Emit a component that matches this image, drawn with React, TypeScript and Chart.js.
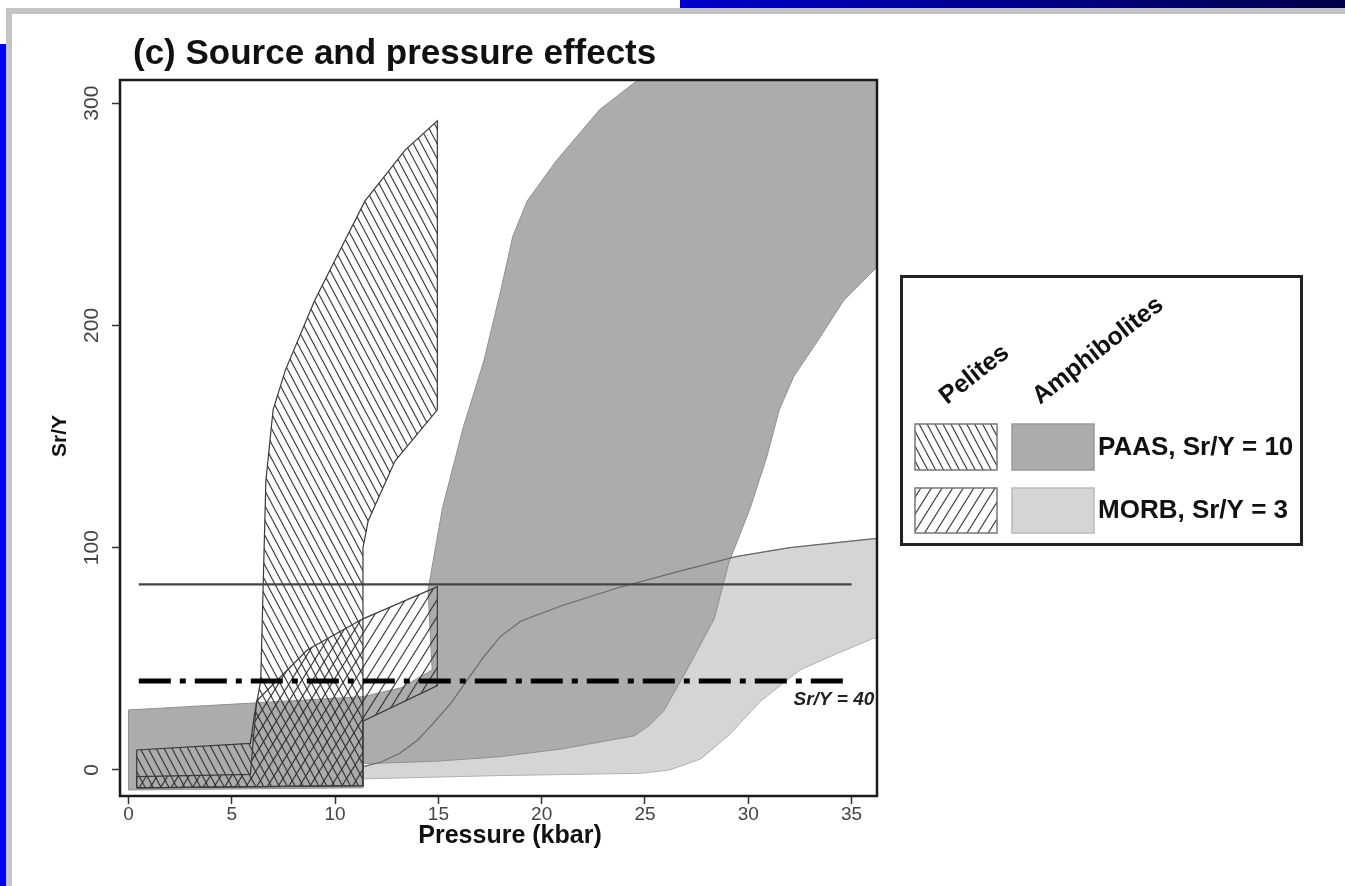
import React, { useEffect, useRef } from 'react';
import { Chart, registerables } from 'chart.js';

Chart.register(...registerables);

// ---- axis ticks ----
const xTicks = [0, 5, 10, 15, 20, 25, 30, 35];
const yTicks = [0, 100, 200, 300];

// ---- Amphibolites, PAAS source (dark grey envelope) ----
const amphPaasX = [0, 0, 5.8, 11.35, 13.2, 14.7, 14.5, 15.2, 16.2, 17.2, 18.0, 18.6, 19.3, 20.7, 22.8, 24.6, 26, 37, 37, 36.2, 34.6, 33.5, 32.2, 31.5, 30.9, 30.1, 29.05, 28.35, 27.0, 25.9, 25.2, 24.5, 21.0, 18.0, 15.0, 12.0, 11.35, 11.35, 0];
const amphPaasY = [-9, 27, 30, 33, 37, 45, 81, 118, 154, 184, 215, 240, 256, 274, 297, 310, 320, 320, 228, 226, 211, 195, 177, 162, 141, 118, 93, 68, 44.5, 26.5, 20, 15.4, 9.5, 6, 4, 3, 3, -8, -9];

// ---- Amphibolites, MORB source (light grey envelope) ----
const amphMorbUpperX = [11.35, 12.2, 13.15, 14.0, 14.75, 15.6, 16.4, 17.2, 18.0, 19.0, 21.0, 23.7, 26.5, 29.4, 32.0, 34.5, 37];
const amphMorbUpperY = [1.5, 3.5, 7.6, 13.5, 21, 30, 40.5, 51, 60, 67, 74, 82, 89, 96, 100, 102.5, 105];
const amphMorbLowerX = [37, 36.0, 34.2, 32.5, 30.6, 29.1, 27.7, 26.2, 24.8, 18.0, 11.35];
const amphMorbLowerY = [62, 59, 52, 45, 31, 16, 5, 0, -1.5, -2.5, -4];

// ---- Pelites, PAAS source (\\\ hatch) ----
const pelPaasX = [0.4, 0.4, 5.9, 6.1, 6.4, 6.65, 7.0, 7.6, 9.0, 10.25, 11.45, 13.4, 14.95, 14.95, 12.9, 11.6, 11.35, 11.35, 0.4];
const pelPaasY = [-8, 9, 12, 25, 40, 130, 162, 180, 211, 234, 256, 279, 292, 162, 139, 112, 100, -7, -8];

// ---- Pelites, MORB source (/// hatch) ----
const pelMorbX = [0.4, 0.4, 5.9, 6.2, 8.65, 11.35, 14.95, 14.95, 11.35, 11.35, 0.4];
const pelMorbY = [-8, -3, -2, 31, 54, 68, 82.5, 38, 22, -7, -8];

// ---- reference lines ----
const solidLineX = [0.5, 35];
const solidLineY = [83.5, 83.5];
const srY40X = [0.5, 34.6];
const srY40Y = [40, 40];

const FONT = '"Liberation Sans", Arial, Helvetica, sans-serif';

function pts(xs: number[], ys: number[]) {
  return xs.map((x, i) => ({ x, y: ys[i] }));
}

export default function App() {
  const ref = useRef<HTMLCanvasElement>(null);

  useEffect(() => {
    const canvas = ref.current!;
    const ctx = canvas.getContext('2d')!;

    const hatch = (spacing: number, angle: number, color: string, lw: number) => {
      const tile = document.createElement('canvas');
      tile.width = spacing;
      tile.height = spacing;
      const g = tile.getContext('2d')!;
      g.strokeStyle = color;
      g.lineWidth = lw;
      g.beginPath();
      g.moveTo(spacing / 2, 0);
      g.lineTo(spacing / 2, spacing);
      g.stroke();
      const p = ctx.createPattern(tile, 'repeat')!;
      p.setTransform(new DOMMatrix().rotateSelf(angle));
      return p;
    };
    const paasHatch = hatch(7, -28, '#2a2a2a', 1.1);
    const morbHatch = hatch(9, 32, '#2a2a2a', 1.1);

    const amphMorbPoly = [
      ...pts(amphMorbUpperX, amphMorbUpperY),
      ...pts(amphMorbLowerX, amphMorbLowerY),
    ];
    amphMorbPoly.push(amphMorbPoly[0]);

    const decor = {
      id: 'decor',
      afterDraw(chart: any) {
        const c = chart.ctx as CanvasRenderingContext2D;
        const a = chart.chartArea;
        const xs = chart.scales.x;
        const ys = chart.scales.y;
        c.save();
        // plot frame
        c.strokeStyle = '#1a1a1a';
        c.lineWidth = 2.5;
        c.strokeRect(a.left, a.top, a.right - a.left, a.bottom - a.top);

        c.fillStyle = '#111';
        c.textAlign = 'left';
        c.textBaseline = 'alphabetic';
        c.font = `bold 35px ${FONT}`;
        c.fillText('(c) Source and pressure effects', 133, 64);

        c.textAlign = 'center';
        c.font = `bold 25px ${FONT}`;
        c.fillText('Pressure (kbar)', 510, 843);

        c.save();
        c.translate(60, 436);
        c.rotate(-Math.PI / 2);
        c.textBaseline = 'middle';
        c.font = `bold 21px ${FONT}`;
        c.fillText('Sr/Y', 0, 0);
        c.restore();

        // Sr/Y = 40 label
        c.textAlign = 'right';
        c.font = `italic bold 19px ${FONT}`;
        c.fillStyle = '#222';
        c.fillText('Sr/Y = 40', xs.getPixelForValue(36.1), ys.getPixelForValue(40) + 24);

        // legend
        c.strokeStyle = '#222';
        c.lineWidth = 3;
        c.strokeRect(901.5, 276.5, 400, 268);

        c.lineWidth = 1.5;
        c.strokeStyle = '#777';
        c.fillStyle = '#fff';
        c.fillRect(915, 424, 82, 46);
        c.fillStyle = paasHatch;
        c.fillRect(915, 424, 82, 46);
        c.strokeRect(915, 424, 82, 46);
        c.fillStyle = '#acacac';
        c.fillRect(1012, 424, 82, 46);
        c.strokeStyle = '#9a9a9a';
        c.strokeRect(1012, 424, 82, 46);

        c.strokeStyle = '#777';
        c.fillStyle = morbHatch;
        c.fillRect(915, 488, 82, 45);
        c.strokeRect(915, 488, 82, 45);
        c.fillStyle = '#d5d5d5';
        c.fillRect(1012, 488, 82, 45);
        c.strokeStyle = '#bbb';
        c.strokeRect(1012, 488, 82, 45);

        c.fillStyle = '#111';
        c.textAlign = 'left';
        c.textBaseline = 'middle';
        c.font = `bold 26px ${FONT}`;
        c.fillText('PAAS, Sr/Y = 10', 1098, 448);
        c.fillText('MORB, Sr/Y = 3', 1098, 511);

        c.font = `bold 25px ${FONT}`;
        c.textBaseline = 'alphabetic';
        c.save();
        c.translate(947, 405);
        c.rotate(-38 * Math.PI / 180);
        c.fillText('Pelites', 0, 0);
        c.restore();
        c.save();
        c.translate(1040, 405);
        c.rotate(-38 * Math.PI / 180);
        c.fillText('Amphibolites', 0, 0);
        c.restore();

        c.restore();
      },
    };

    const chart = new Chart(ctx, {
      type: 'line',
      data: {
        datasets: [
          {
            label: 'Amphibolites MORB',
            data: amphMorbPoly,
            backgroundColor: '#d5d5d5',
            borderColor: '#b0b0b0',
            borderWidth: 1,
            fill: 'shape',
            order: 10,
          },
          {
            label: 'Amphibolites PAAS',
            data: pts(amphPaasX, amphPaasY),
            backgroundColor: '#acacac',
            borderColor: '#909090',
            borderWidth: 1,
            fill: 'shape',
            order: 9,
          },
          {
            label: 'MORB upper',
            data: pts(amphMorbUpperX, amphMorbUpperY),
            borderColor: '#6a6a6a',
            borderWidth: 1.2,
            fill: false,
            order: 8,
          },
          {
            label: 'Pelites PAAS',
            data: pts(pelPaasX, pelPaasY),
            backgroundColor: paasHatch,
            borderColor: '#3a3a3a',
            borderWidth: 1.2,
            fill: 'shape',
            order: 7,
          },
          {
            label: 'Pelites MORB',
            data: pts(pelMorbX, pelMorbY),
            backgroundColor: morbHatch,
            borderColor: '#3a3a3a',
            borderWidth: 1.2,
            fill: 'shape',
            order: 6,
          },
          {
            label: 'solid',
            data: pts(solidLineX, solidLineY),
            borderColor: '#444',
            borderWidth: 2.2,
            fill: false,
            order: 2,
          },
          {
            label: 'Sr/Y = 40',
            data: pts(srY40X, srY40Y),
            borderColor: '#000',
            borderWidth: 5,
            borderDash: [32, 9, 6, 9],
            borderCapStyle: 'butt',
            fill: false,
            order: 1,
          },
        ] as any,
      },
      options: {
        responsive: false,
        animation: false,
        devicePixelRatio: 1,
        layout: { padding: { left: 0, top: 80, right: 1345 - 877, bottom: 0 } },
        elements: { point: { radius: 0, hoverRadius: 0 }, line: { tension: 0 } },
        plugins: { legend: { display: false }, tooltip: { enabled: false }, title: { display: false } },
        events: [],
        scales: {
          x: {
            type: 'linear',
            min: -0.41,
            max: 36.23,
            afterBuildTicks: (s: any) => { s.ticks = xTicks.map((v) => ({ value: v })); },
            afterFit: (s: any) => { s.height = 90; },
            grid: { drawOnChartArea: false, drawTicks: true, tickLength: 8, tickColor: '#333', tickWidth: 1.5 },
            border: { display: false },
            ticks: { autoSkip: false, minRotation: 0, maxRotation: 0, padding: -1, color: '#444', font: { family: FONT, size: 19 } },
          },
          y: {
            type: 'linear',
            min: -11.7,
            max: 310.4,
            afterBuildTicks: (s: any) => { s.ticks = yTicks.map((v) => ({ value: v })); },
            afterFit: (s: any) => { s.width = 120; },
            grid: { drawOnChartArea: false, drawTicks: true, tickLength: 8, tickColor: '#333', tickWidth: 1.5 },
            border: { display: false },
            ticks: { autoSkip: false, minRotation: 90, maxRotation: 90, crossAlign: 'center', padding: 2, color: '#444', font: { family: FONT, size: 21 } },
          },
        },
      } as any,
      plugins: [decor],
    });
    return () => chart.destroy();
  }, []);

  return (
    <div style={{ position: 'absolute', left: 0, top: 0, width: 1345, height: 886, background: '#fff', overflow: 'hidden' }}>
      <canvas ref={ref} width={1345} height={886} style={{ position: 'absolute', left: 0, top: 0 }} />
      <div style={{ position: 'absolute', left: 680, top: 0, width: 665, height: 8, background: 'linear-gradient(to right, #0000cc, #00004a)' }} />
      <div style={{ position: 'absolute', left: 6, top: 8, width: 1339, height: 6, background: '#c4c4c4' }} />
      <div style={{ position: 'absolute', left: 6, top: 8, width: 6, height: 878, background: '#c4c4c4' }} />
      <div style={{ position: 'absolute', left: 0, top: 44, width: 6, height: 842, background: '#0000f0' }} />
    </div>
  );
}
